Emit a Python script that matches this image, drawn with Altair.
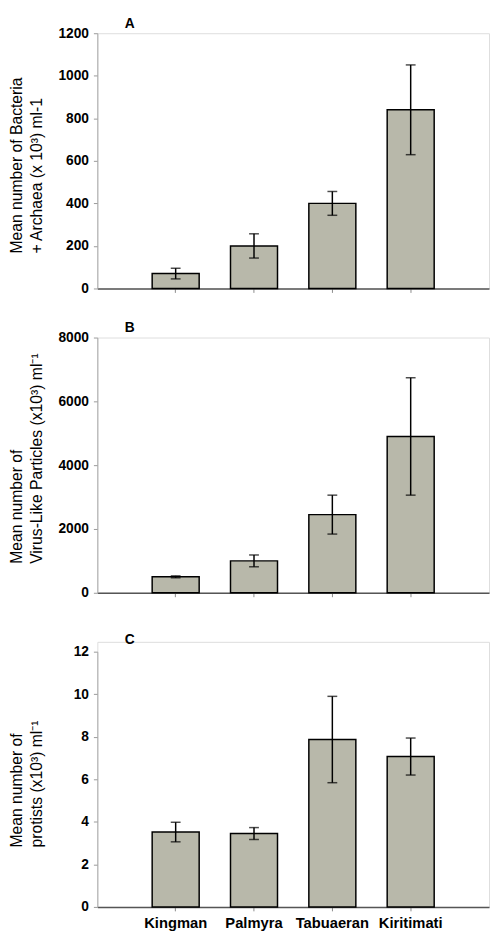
import altair as alt
import pandas as pd

sites = ["Kingman", "Palmyra", "Tabuaeran", "Kiritimati"]

bact_mean = [70, 200, 400, 840]
bact_err = [25, 57, 56, 211]

vlp_mean = [500, 1000, 2450, 4900]
vlp_err = [30, 185, 610, 1840]

prot_mean = [3.52, 3.45, 7.87, 7.07]
prot_err = [0.46, 0.28, 2.03, 0.87]

FONT = "Liberation Sans"
BAR = "#B8B8AA"


def panel(mean, err, ymax, step, title_lines, title_y, letter, letter_y,
          show_labels, height=260, top_pad=0):
    df = pd.DataFrame({
        "site": sites,
        "mean": mean,
        "lo": [m - e for m, e in zip(mean, err)],
        "hi": [m + e for m, e in zip(mean, err)],
    })

    xenc = alt.X(
        "site:N", sort=sites,
        scale=alt.Scale(paddingInner=0.4, paddingOuter=0.7),
        axis=alt.Axis(title=None, labels=show_labels, labelAngle=0,
                      labelFont=FONT, labelFontSize=15, labelFontWeight="bold",
                      labelColor="black", labelPadding=5, tickSize=4,
                      tickColor="#8a8a8a", domainColor="#555555",
                      domainWidth=1.5, grid=False),
    )

    def yenc(field):
        return alt.Y(
            f"{field}:Q",
            scale=alt.Scale(domain=[0, ymax], nice=False, zero=True,
                            range=[height, top_pad]),
            axis=alt.Axis(values=list(range(0, ymax + 1, step)), format="d",
                          grid=False, labelFont=FONT, labelFontSize=14,
                          labelFontWeight="bold", labelColor="black",
                          labelPadding=5, tickSize=4, tickColor="#999999",
                          domainColor="#a8a8a8", domainWidth=1,
                          title=title_lines, titleAngle=270, titleAlign="left",
                          titleBaseline="top", titleX=-90, titleY=title_y,
                          titleFont=FONT, titleFontSize=16,
                          titleFontWeight="normal", titleColor="black",
                          titleLineHeight=20),
        )

    base = alt.Chart(df)
    bars = base.mark_bar(fill=BAR, stroke="black", strokeWidth=1.5).encode(
        x=xenc, y=yenc("mean"))
    rule = base.mark_rule(color="black", strokeWidth=1.5).encode(
        x=xenc, y=yenc("lo"), y2="hi:Q")
    cap_lo = base.mark_tick(color="black", size=10, thickness=1.5).encode(
        x=xenc, y=yenc("lo"))
    cap_hi = base.mark_tick(color="black", size=10, thickness=1.5).encode(
        x=xenc, y=yenc("hi"))
    lab = alt.Chart(pd.DataFrame({"t": [letter]})).mark_text(
        font=FONT, fontSize=14, fontWeight="bold", align="center",
        baseline="middle", color="black").encode(
        text="t:N", x=alt.value(33), y=alt.value(letter_y))

    return alt.layer(bars, rule, cap_lo, cap_hi, lab).properties(
        width=399, height=height)


pA = panel(bact_mean, bact_err, 1200, 200,
           ["Mean number of Bacteria", "+ Archaea (x 10\u00b3) ml-1"],
           224, "A", -9, False)
pB = panel(vlp_mean, vlp_err, 8000, 2000,
           ["Mean number of", "Virus-Like Particles (x10\u00b3) ml\u207b\u00b9"],
           230, "B", -10, False)
pC = panel(prot_mean, prot_err, 12, 2,
           ["Mean number of", "protists (x10\u00b3) ml\u207b\u00b9"],
           209, "C", -2, True, height=270, top_pad=10)

chart = alt.vconcat(pA, pB, pC, spacing=50, bounds="flush", padding=0
                    ).configure_view(stroke=None).configure(background="white")

chart.save("out.html", embed_options={"renderer": "svg", "actions": False})
